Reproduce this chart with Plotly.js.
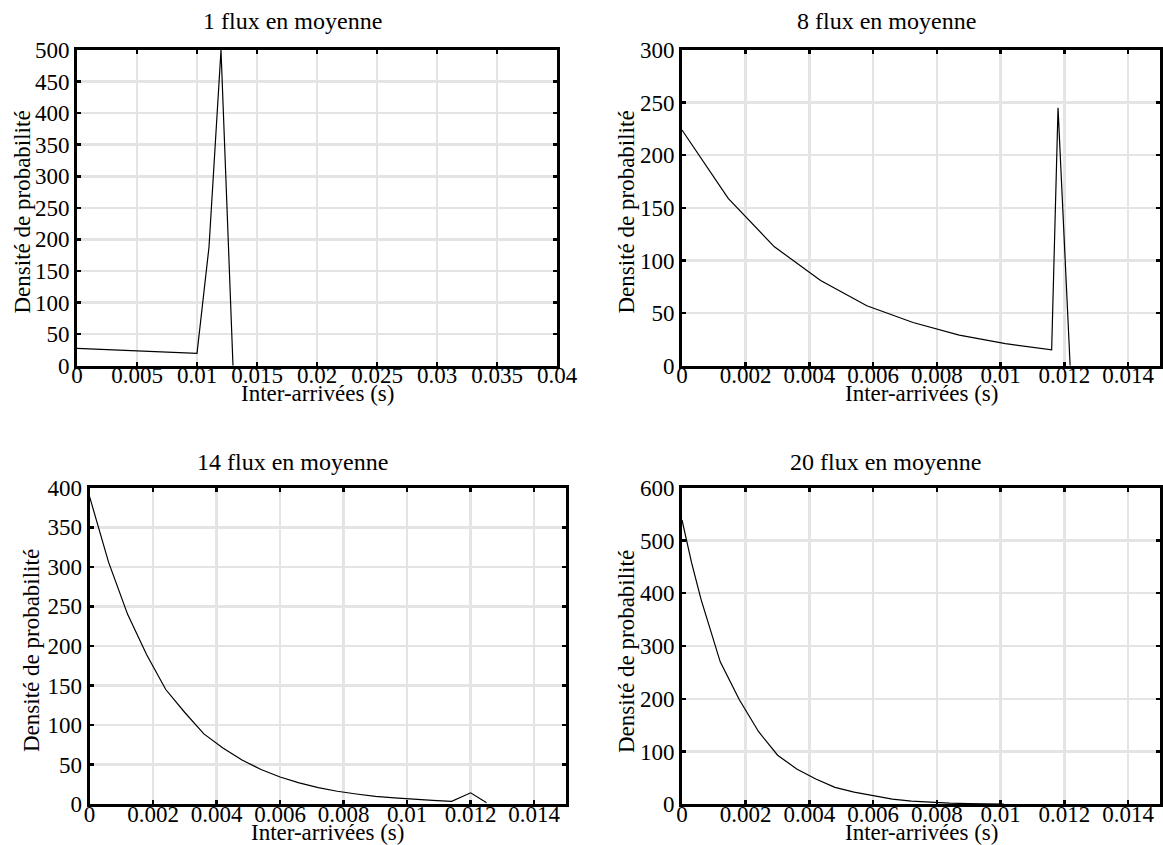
<!DOCTYPE html>
<html>
<head>
<meta charset="utf-8">
<script src="https://cdn.plot.ly/plotly-3.0.1.min.js"></script>
<style>
html,body{margin:0;padding:0;background:#fff;}
#chart{width:1163px;height:845px;}
</style>
</head>
<body>
<div id="chart"></div>
<script>
// ---- Data ----
const titles = ["1 flux en moyenne", "8 flux en moyenne", "14 flux en moyenne", "20 flux en moyenne"];
const xLabel = "Inter-arrivées (s)";
const yLabel = "Densité de probabilité";

const x1 = [0, 0.005, 0.01, 0.011, 0.012, 0.013];
const y1 = [27.5, 23.5, 19.6, 188, 500, 0];

const x2 = [0, 0.00145, 0.0029, 0.00435, 0.0058, 0.00725, 0.0087, 0.01015, 0.0116, 0.0118, 0.01218];
const y2 = [224, 159, 113, 81, 57, 41, 29, 21, 15, 245, 0];

const x3 = [0, 0.0006, 0.0012, 0.0018, 0.0024, 0.003, 0.0036, 0.0042, 0.0048, 0.0054, 0.006, 0.0066, 0.0072, 0.0078, 0.0084, 0.009, 0.0096, 0.0102, 0.0108, 0.0114, 0.012, 0.0125];
const y3 = [389, 306, 240, 189, 145, 116, 89, 71, 56, 44, 34.5, 27, 21, 16.5, 13, 10, 8, 6.2, 4.9, 3.8, 14.5, 2];

const x4 = [0, 0.0003, 0.0006, 0.0012, 0.0018, 0.0024, 0.003, 0.0036, 0.0042, 0.0048, 0.0054, 0.006, 0.0066, 0.0072, 0.0078, 0.0084, 0.009, 0.0096, 0.0101];
const y4 = [539, 458, 388, 270, 198, 138, 93, 67, 48, 32, 23, 15.8, 9.8, 6.1, 3.8, 2.2, 1.3, 0.7, 0.45];

const xRanges = [[0, 0.04], [0, 0.015], [0, 0.015], [0, 0.015]];
const yRanges = [[0, 500], [0, 300], [0, 400], [0, 600]];
const xSteps = [0.005, 0.002, 0.002, 0.002];
const ySteps = [50, 50, 50, 100];

// ---- Layout geometry (pixels) ----
const W = 1163, H = 845;
const boxes = [
  {l: 77, r: 557, t: 50, b: 365.7},
  {l: 682, r: 1160, t: 50, b: 365.7},
  {l: 89.5, r: 566, t: 487.7, b: 804.3},
  {l: 682, r: 1160, t: 487.7, b: 804.3}
];
const titlePos = [[292, 21], [886, 21], [292, 462], [885, 462]];
const yTitlePos = [[22, 212.5], [626, 212.5], [31, 651], [626, 652]];

const FONT = "'Liberation Serif', 'Times New Roman', serif";
const FS = 23;
const FS_TITLE = 24;
const px = v => v / W;
const py = v => 1 - v / H;

const xs = [x1, x2, x3, x4], ys = [y1, y2, y3, y4];
const traces = [];
const layout = {
  width: W, height: H,
  margin: {l: 0, r: 0, t: 0, b: 0, pad: 0},
  paper_bgcolor: "#fff", plot_bgcolor: "#fff",
  showlegend: false,
  font: {family: FONT, size: FS, color: "#000"},
  annotations: []
};

for (let i = 0; i < 4; i++) {
  const sfx = i === 0 ? "" : String(i + 1);
  const b = boxes[i];
  traces.push({
    x: xs[i], y: ys[i], type: "scatter", mode: "lines",
    line: {color: "#000", width: 1.2},
    xaxis: "x" + sfx, yaxis: "y" + sfx, hoverinfo: "skip"
  });
  const common = {
    showline: true, linecolor: "#000", linewidth: 3, mirror: "ticks",
    ticks: "inside", ticklen: 4, tickwidth: 2.5, tickcolor: "#000",
    showgrid: true, gridcolor: "#e4e4e4", gridwidth: 2.5,
    zeroline: false, fixedrange: true,
    tickfont: {family: FONT, size: FS, color: "#000"}
  };
  layout["xaxis" + sfx] = Object.assign({}, common, {
    domain: [px(b.l), px(b.r)], range: xRanges[i], tick0: 0, dtick: xSteps[i],
    anchor: "y" + sfx, ticklabelstandoff: -13
  });
  layout["yaxis" + sfx] = Object.assign({}, common, {
    domain: [py(b.b), py(b.t)], range: yRanges[i], tick0: 0, dtick: ySteps[i],
    anchor: "x" + sfx, ticklabelstandoff: 0
  });
  layout.annotations.push({
    text: titles[i], xref: "paper", yref: "paper",
    x: px(titlePos[i][0]), y: py(titlePos[i][1]),
    xanchor: "center", yanchor: "middle", showarrow: false,
    font: {family: FONT, size: FS_TITLE, color: "#000"}
  });
  layout.annotations.push({
    text: xLabel, xref: "paper", yref: "paper",
    x: px((b.l + b.r) / 2), y: py(b.b + 28),
    xanchor: "center", yanchor: "middle", showarrow: false,
    font: {family: FONT, size: FS, color: "#000"}
  });
  layout.annotations.push({
    text: yLabel, xref: "paper", yref: "paper", textangle: -90,
    x: px(yTitlePos[i][0]), y: py(yTitlePos[i][1]),
    xanchor: "center", yanchor: "middle", showarrow: false,
    font: {family: FONT, size: FS, color: "#000"}
  });
}

Plotly.newPlot("chart", traces, layout, {displayModeBar: false, staticPlot: true});
</script>
</body>
</html>
